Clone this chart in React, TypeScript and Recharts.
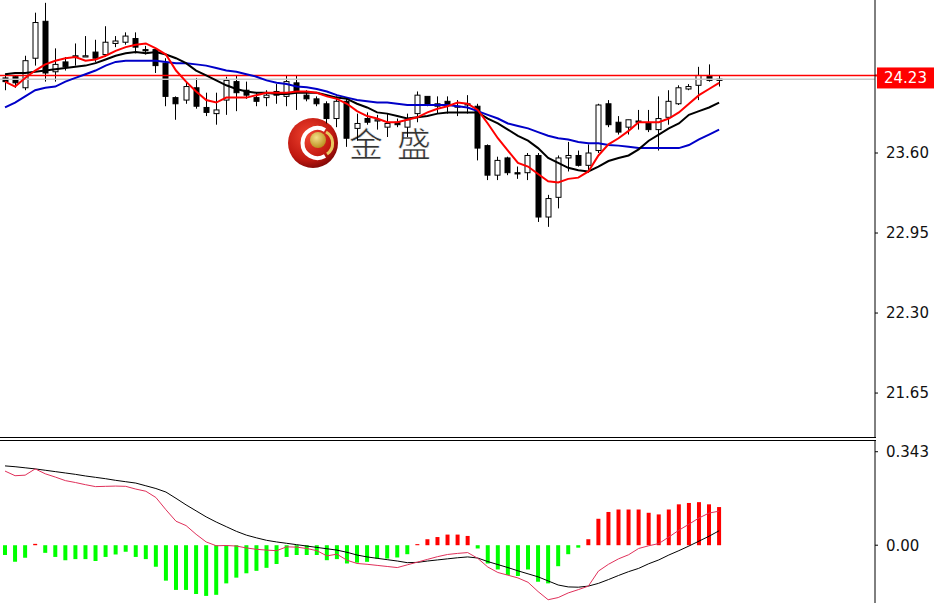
import React from 'react';
import { ComposedChart, Bar, Line, XAxis, YAxis, ReferenceLine, Cell } from 'recharts';

// candles, oldest first
const opens = [24.21, 24.22, 24.13, 24.37, 24.67, 24.26, 24.34, 24.38, 24.38, 24.42, 24.40, 24.49, 24.50, 24.53, 24.44, 24.44, 24.33, 24.05, 24.03, 24.13, 23.97, 23.92, 24.03, 24.18, 24.11, 24.05, 24.05, 24.10, 24.06, 24.17, 24.07, 24.04, 24.00, 23.88, 24.02, 23.80, 23.88, 23.86, 23.81, 23.85, 23.81, 23.92, 24.06, 23.98, 24.02, 23.98, 23.99, 23.98, 23.66, 23.42, 23.56, 23.44, 23.44, 23.58, 23.08, 23.24, 23.56, 23.58, 23.50, 23.62, 24.00, 23.85, 23.81, 23.86, 23.84, 23.79, 23.89, 24.00, 24.12, 24.15, 24.23, 24.19];
const highs = [24.23, 24.23, 24.39, 24.74, 24.82, 24.45, 24.38, 24.49, 24.55, 24.52, 24.63, 24.55, 24.58, 24.58, 24.47, 24.45, 24.37, 24.06, 24.18, 24.21, 24.09, 24.09, 24.22, 24.23, 24.18, 24.09, 24.11, 24.16, 24.23, 24.23, 24.11, 24.06, 24.02, 24.06, 24.04, 23.92, 23.93, 23.91, 23.92, 23.88, 23.92, 24.10, 24.06, 24.06, 24.06, 24.03, 24.07, 24.00, 23.67, 23.57, 23.57, 23.49, 23.60, 23.60, 23.26, 23.58, 23.69, 23.62, 23.67, 24.00, 24.03, 23.90, 23.87, 23.95, 23.95, 24.06, 24.11, 24.15, 24.16, 24.30, 24.32, 24.23];
const lows = [24.11, 24.13, 24.11, 24.31, 24.18, 24.18, 24.27, 24.31, 24.38, 24.34, 24.38, 24.46, 24.48, 24.41, 24.40, 24.25, 23.98, 23.87, 24.00, 23.96, 23.90, 23.83, 23.91, 23.94, 24.04, 23.98, 23.98, 24.00, 23.98, 23.95, 24.02, 23.98, 23.84, 23.81, 23.65, 23.70, 23.83, 23.79, 23.73, 23.81, 23.73, 23.85, 23.98, 23.92, 23.92, 23.90, 23.92, 23.54, 23.38, 23.38, 23.42, 23.39, 23.38, 23.04, 23.00, 23.15, 23.45, 23.49, 23.44, 23.60, 23.81, 23.75, 23.75, 23.79, 23.77, 23.62, 23.83, 23.99, 24.11, 24.03, 24.18, 24.14];
const closes = [24.18, 24.17, 24.35, 24.66, 24.25, 24.32, 24.30, 24.39, 24.39, 24.37, 24.50, 24.51, 24.55, 24.46, 24.43, 24.31, 24.06, 24.00, 24.14, 23.98, 23.93, 23.95, 24.19, 24.09, 24.07, 24.02, 24.07, 24.07, 24.18, 24.10, 24.04, 24.00, 23.88, 24.02, 23.72, 23.84, 23.85, 23.87, 23.84, 23.83, 23.87, 24.07, 23.99, 24.00, 23.99, 23.98, 24.00, 23.64, 23.42, 23.54, 23.44, 23.43, 23.58, 23.08, 23.23, 23.56, 23.58, 23.50, 23.60, 23.99, 23.83, 23.77, 23.87, 23.85, 23.79, 23.88, 24.02, 24.13, 24.14, 24.23, 24.19, 24.20];

// moving averages as drawn on the chart
const maFast = [24.18, 24.14, 24.21, 24.27, 24.32, 24.35, 24.37, 24.38, 24.35, 24.36, 24.39, 24.43, 24.46, 24.48, 24.49, 24.45, 24.40, 24.27, 24.18, 24.10, 24.03, 24.01, 24.05, 24.05, 24.05, 24.07, 24.09, 24.09, 24.09, 24.10, 24.10, 24.09, 24.06, 24.04, 24.00, 23.94, 23.90, 23.88, 23.85, 23.85, 23.87, 23.89, 23.93, 23.96, 23.98, 24.01, 24.00, 23.95, 23.84, 23.72, 23.62, 23.52, 23.49, 23.43, 23.37, 23.36, 23.39, 23.40, 23.45, 23.58, 23.67, 23.72, 23.78, 23.85, 23.85, 23.85, 23.88, 23.93, 24.00, 24.07, 24.12, 24.17];
const maMid = [24.24, 24.25, 24.25, 24.26, 24.27, 24.28, 24.29, 24.30, 24.31, 24.33, 24.36, 24.39, 24.41, 24.42, 24.41, 24.42, 24.40, 24.37, 24.33, 24.27, 24.23, 24.19, 24.15, 24.12, 24.10, 24.09, 24.09, 24.08, 24.08, 24.09, 24.09, 24.09, 24.07, 24.05, 24.04, 24.00, 23.97, 23.93, 23.92, 23.90, 23.88, 23.89, 23.90, 23.92, 23.93, 23.93, 23.93, 23.93, 23.88, 23.84, 23.79, 23.74, 23.70, 23.64, 23.56, 23.52, 23.48, 23.46, 23.45, 23.49, 23.535, 23.56, 23.58, 23.63, 23.70, 23.75, 23.80, 23.84, 23.91, 23.94, 23.97, 24.01];
const maSlow = [23.97, 24.01, 24.06, 24.11, 24.13, 24.14, 24.18, 24.21, 24.24, 24.27, 24.31, 24.34, 24.35, 24.35, 24.35, 24.35, 24.34, 24.33, 24.33, 24.32, 24.31, 24.29, 24.27, 24.26, 24.24, 24.22, 24.19, 24.17, 24.16, 24.14, 24.135, 24.12, 24.10, 24.07, 24.05, 24.03, 24.02, 24.01, 24.01, 24.00, 23.99, 23.99, 23.99, 23.99, 23.99, 23.98, 23.97, 23.94, 23.91, 23.88, 23.84, 23.82, 23.80, 23.77, 23.74, 23.72, 23.71, 23.69, 23.68, 23.68, 23.665, 23.66, 23.65, 23.64, 23.64, 23.64, 23.64, 23.64, 23.665, 23.71, 23.75, 23.79];

// MACD panel
const histogram = [-0.036, -0.061, -0.046, 0.005, -0.028, -0.043, -0.055, -0.051, -0.051, -0.058, -0.043, -0.034, -0.024, -0.043, -0.051, -0.079, -0.130, -0.164, -0.164, -0.179, -0.186, -0.182, -0.140, -0.119, -0.103, -0.094, -0.083, -0.069, -0.043, -0.036, -0.036, -0.036, -0.055, -0.051, -0.067, -0.064, -0.061, -0.049, -0.049, -0.045, -0.033, 0.004, 0.022, 0.030, 0.039, 0.039, 0.034, -0.012, -0.067, -0.089, -0.109, -0.113, -0.089, -0.134, -0.140, -0.077, -0.033, -0.009, 0.022, 0.097, 0.122, 0.131, 0.131, 0.131, 0.119, 0.113, 0.131, 0.150, 0.155, 0.158, 0.150, 0.140];
const macdMain = [0.272, 0.255, 0.257, 0.280, 0.262, 0.250, 0.237, 0.230, 0.222, 0.215, 0.216, 0.217, 0.216, 0.206, 0.198, 0.175, 0.130, 0.088, 0.072, 0.040, 0.012, -0.002, -0.001, -0.003, -0.010, -0.015, -0.018, -0.020, -0.006, -0.007, -0.012, -0.020, -0.039, -0.033, -0.055, -0.067, -0.070, -0.074, -0.078, -0.082, -0.072, -0.062, -0.052, -0.042, -0.034, -0.030, -0.027, -0.048, -0.080, -0.100, -0.110, -0.120, -0.136, -0.170, -0.200, -0.192, -0.175, -0.163, -0.150, -0.095, -0.070, -0.050, -0.035, -0.012, -0.002, 0.006, 0.030, 0.055, 0.077, 0.100, 0.118, 0.125];
const macdSignal = [0.291, 0.288, 0.284, 0.280, 0.275, 0.270, 0.265, 0.260, 0.254, 0.249, 0.244, 0.238, 0.233, 0.228, 0.218, 0.208, 0.195, 0.172, 0.148, 0.126, 0.104, 0.085, 0.068, 0.051, 0.037, 0.027, 0.018, 0.012, 0.007, 0.002, -0.003, -0.008, -0.013, -0.018, -0.026, -0.036, -0.043, -0.048, -0.053, -0.058, -0.064, -0.063, -0.058, -0.054, -0.050, -0.046, -0.043, -0.047, -0.060, -0.071, -0.082, -0.094, -0.105, -0.116, -0.131, -0.146, -0.153, -0.154, -0.150, -0.140, -0.126, -0.111, -0.097, -0.085, -0.068, -0.054, -0.036, -0.020, -0.003, 0.015, 0.033, 0.053];

const priceTicks = [21.65, 22.3, 22.95, 23.6];
const macdTicks = [0, 0.343];
const macdTickLabels = ['0.00', '0.343'];
const askPrice = 24.23;
const bidPrice = 24.2;

const SLOTS = 87; // visible bar slots, the right part is empty space

const priceData = Array.from({ length: SLOTS }, (_, i) =>
  i < opens.length
    ? {
        i,
        open: opens[i],
        high: highs[i],
        low: lows[i],
        close: closes[i],
        range: [lows[i], highs[i]],
        maFast: maFast[i],
        maMid: maMid[i],
        maSlow: maSlow[i],
      }
    : { i }
);

const macdData = Array.from({ length: SLOTS }, (_, i) =>
  i < histogram.length
    ? { i, hist: histogram[i], main: macdMain[i], signal: macdSignal[i] }
    : { i }
);

const FONT = '"DejaVu Sans", Verdana, sans-serif';

const Candle = (props: any) => {
  const { x, y, width, height, payload } = props;
  if (!payload || payload.open == null || height == null) return null;
  const { open, close, high, low } = payload;
  const top = Math.min(y, y + height);
  const k = Math.abs(height) / (high - low);
  const py = (v: number) => top + (high - v) * k;
  const cx = Math.floor(x + width / 2) + 0.5;
  const bTop = py(Math.max(open, close));
  const bBot = py(Math.min(open, close));
  const up = close >= open;
  return (
    <g>
      <line x1={cx} x2={cx} y1={py(high)} y2={py(low)} stroke="#000" strokeWidth={1} />
      <rect
        x={cx - 2.5}
        y={bTop}
        width={5}
        height={Math.max(bBot - bTop, 1)}
        fill={up ? '#fff' : '#000'}
        stroke="#000"
        strokeWidth={1}
      />
    </g>
  );
};

const PriceTag = (props: any) => {
  const { viewBox } = props;
  if (!viewBox) return null;
  const right = viewBox.x + viewBox.width;
  const yy = viewBox.y;
  return (
    <g>
      <rect x={right} y={yy - 1} width={3} height={2} fill="#ff0000" />
      <rect x={right + 2} y={yy - 8} width={58} height={21} fill="#ff0000" />
      <text x={right + 9} y={yy + 8} fill="#fff" fontSize={15} fontFamily={FONT}>
        {askPrice.toFixed(2)}
      </text>
    </g>
  );
};

const Watermark = () => (
  <svg
    width={180}
    height={70}
    style={{ position: 'absolute', left: 280, top: 110 }}
  >
    <defs>
      <radialGradient id="ball" cx="40%" cy="35%" r="70%">
        <stop offset="0%" stopColor="#f0432f" />
        <stop offset="70%" stopColor="#c01810" />
        <stop offset="100%" stopColor="#7a0606" />
      </radialGradient>
      <radialGradient id="gold" cx="40%" cy="35%" r="70%">
        <stop offset="0%" stopColor="#f4e08a" />
        <stop offset="100%" stopColor="#b88a18" />
      </radialGradient>
    </defs>
    <circle cx={33} cy={33} r={25} fill="url(#ball)" />
    <path d="M 45 20 A 15 15 0 1 0 45 46" fill="none" stroke="#fff" strokeWidth={4} />
    <path d="M 46 22 A 13 13 0 0 1 47 44" fill="none" stroke="#e8c860" strokeWidth={3} />
    <circle cx={38} cy={30} r={8} fill="url(#gold)" />
    <text
      x={69}
      y={47}
      fontSize={34}
      fill="#333"
      stroke="#fff"
      strokeWidth={0.6}
      fontFamily='"Noto Sans CJK SC", sans-serif'
    >
      金
    </text>
    <text
      x={117}
      y={47}
      fontSize={34}
      fill="#333"
      stroke="#fff"
      strokeWidth={0.6}
      fontFamily='"Noto Sans CJK SC", sans-serif'
    >
      盛
    </text>
  </svg>
);

export default function App() {
  const tickStyle = { fill: '#111', fontSize: 15, fontFamily: FONT };
  return (
    <div
      style={{
        position: 'absolute',
        left: 0,
        top: 0,
        width: 934,
        height: 603,
        overflow: 'hidden',
        background: '#fff',
      }}
    >
      <Watermark />

      <span
        style={{
          position: 'absolute',
          left: 886,
          top: -14,
          fontSize: 15,
          fontFamily: FONT,
          color: '#111',
        }}
      >
        24.90
      </span>

      <div style={{ position: 'absolute', left: 0, top: 0 }}>
        <ComposedChart width={934} height={437} data={priceData} margin={{ top: 0, right: 0, bottom: 0, left: 0 }}>
          <XAxis dataKey="i" hide />
          <YAxis
            orientation="right"
            width={59}
            domain={[21.293, 24.843]}
            allowDataOverflow
            ticks={priceTicks}
            tickFormatter={(v: number) => v.toFixed(2)}
            tick={tickStyle}
            tickSize={3}
            tickMargin={8}
            tickLine={{ stroke: '#000' }}
            axisLine={{ stroke: '#000' }}
          />
          <ReferenceLine y={bidPrice} stroke="#c8c8c8" strokeWidth={1.5} />
          <ReferenceLine y={askPrice} stroke="#ff0000" strokeWidth={1.5} label={<PriceTag />} />
          <Bar dataKey="range" barSize={6} shape={<Candle />} isAnimationActive={false} />
          <Line dataKey="maSlow" type="linear" stroke="#0000c8" strokeWidth={2} dot={false} activeDot={false} isAnimationActive={false} />
          <Line dataKey="maMid" type="linear" stroke="#000" strokeWidth={2} dot={false} activeDot={false} isAnimationActive={false} />
          <Line dataKey="maFast" type="linear" stroke="#ff0000" strokeWidth={2} dot={false} activeDot={false} isAnimationActive={false} />
        </ComposedChart>
      </div>

      <div style={{ position: 'absolute', left: 0, top: 437, width: 876, height: 1, background: '#000' }} />
      <div style={{ position: 'absolute', left: 0, top: 440, width: 876, height: 1, background: '#000' }} />

      <div style={{ position: 'absolute', left: 0, top: 440 }}>
        <ComposedChart width={934} height={163} data={macdData} margin={{ top: 0, right: 0, bottom: 0, left: 0 }}>
          <XAxis dataKey="i" hide />
          <YAxis
            orientation="right"
            width={59}
            domain={[-0.212, 0.386]}
            allowDataOverflow
            ticks={macdTicks}
            tickFormatter={(v: number) => macdTickLabels[macdTicks.indexOf(v)]}
            tick={tickStyle}
            tickSize={3}
            tickMargin={8}
            tickLine={{ stroke: '#000' }}
            axisLine={{ stroke: '#000' }}
          />
          <Bar dataKey="hist" barSize={4} isAnimationActive={false}>
            {macdData.map((d: any, idx) => (
              <Cell key={idx} fill={d.hist > 0 ? '#ff0000' : '#00ff00'} />
            ))}
          </Bar>
          <Line dataKey="signal" type="linear" stroke="#000" strokeWidth={1} dot={false} activeDot={false} isAnimationActive={false} />
          <Line dataKey="main" type="linear" stroke="#e0305a" strokeWidth={1} dot={false} activeDot={false} isAnimationActive={false} />
        </ComposedChart>
      </div>
    </div>
  );
}
